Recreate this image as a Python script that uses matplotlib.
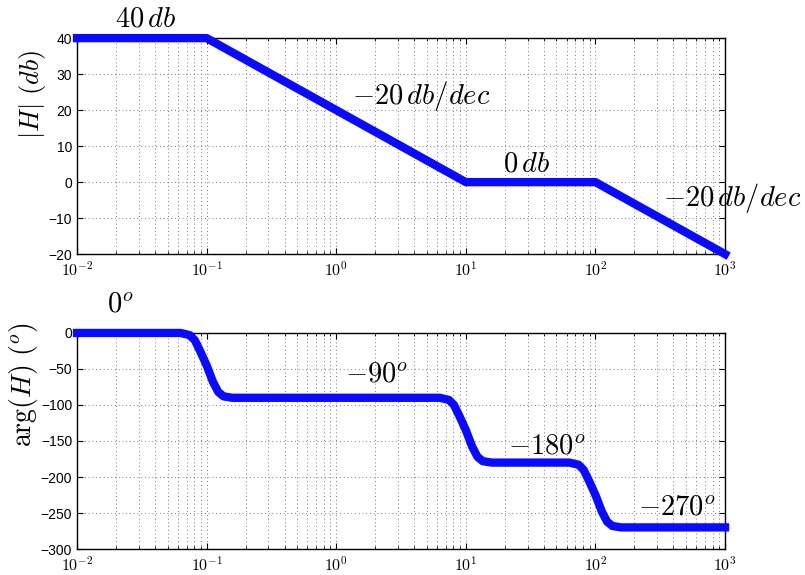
import numpy as np
import matplotlib
matplotlib.use("Agg")
import matplotlib.pyplot as plt
from matplotlib.ticker import FuncFormatter, LogLocator, MultipleLocator

plt.rcParams['mathtext.fontset'] = 'cm'
plt.rcParams['font.family'] = ['Liberation Sans', 'DejaVu Sans']

## Asymptotic magnitude (breakpoints).
mag_freq = [0.01, 0.1, 10, 100, 1000]
mag_db = [40, 40, 0, 0, -20]

## Phase curve, points.
phase_freq = [0.01, 0.063, 0.074, 0.081, 0.089, 0.1, 0.112, 0.123, 0.135, 0.158,
              6.3, 7.4, 8.1, 8.9, 10, 11.2, 12.3, 13.5, 15.8,
              63, 74, 81, 89, 100, 112, 123, 135, 158, 1000]
phase_deg = [0, 0, -3, -10, -25, -45, -68, -82, -88, -90,
             -90, -93, -100, -115, -135, -158, -172, -178, -180,
             -180, -183, -190, -205, -225, -248, -262, -268, -270, -270]

## Annotations: (text, x, y)
mag_notes = [(r'$40\,db$', 0.0196, 45.3),
             (r'$-20\,db/dec$', 1.32, 23.8),
             (r'$0\,db$', 19.4, 4.8),
             (r'$-20\,db/dec$', 333, -4.4)]
phase_notes = [(r'$0^o$', 0.017, 40),
               (r'$-90^o$', 1.17, -57),
               (r'$-180^o$', 21.2, -158),
               (r'$-270^o$', 214, -243)]


def dec_label(v, pos):
    return r'$\mathsf{10^{%d}}$' % int(round(np.log10(v)))


def style_axes(ax):
    ax.set_xscale('log')
    ax.set_xlim(1e-2, 1e3)
    ax.xaxis.set_major_locator(LogLocator(base=10, numticks=10))
    ax.xaxis.set_minor_locator(LogLocator(base=10, subs=np.arange(2, 10), numticks=10))
    ax.xaxis.set_major_formatter(FuncFormatter(dec_label))
    ax.grid(True, which='major', axis='both', color='0.3', linestyle=(0, (1, 3.5)), linewidth=0.6)
    ax.grid(True, which='minor', axis='x', color='0.3', linestyle=(0, (1, 3.5)), linewidth=0.6)
    ax.tick_params(which='both', direction='in', top=True, right=True)
    ax.tick_params(axis='y', labelsize=10)
    ax.tick_params(axis='x', labelsize=11.5, pad=4.5)
    ax.tick_params(which='major', length=4)
    ax.tick_params(which='minor', length=2)
    for s in ax.spines.values():
        s.set_linewidth(1.0)


fig = plt.figure(figsize=(8.05, 5.75), dpi=100)
ax1 = fig.add_axes([0.0957, 0.558, 0.805, 0.3757])
ax2 = fig.add_axes([0.0957, 0.0452, 0.805, 0.3757])

## Magnitude plot
ax1.plot(mag_freq, mag_db, color='#0a0aff', linewidth=6, clip_on=False,
         solid_capstyle='projecting', solid_joinstyle='round', zorder=3)
style_axes(ax1)
ax1.set_ylim(-20, 40)
ax1.yaxis.set_major_locator(MultipleLocator(10))
ax1.set_ylabel(r'$|H|\ (db)$', fontsize=19)
ax1.yaxis.set_label_coords(-0.045, 0.74)
for txt, x, y in mag_notes:
    ax1.text(x, y, txt, fontsize=20.5, ha='left', va='center', clip_on=False)

## Phase plot
ax2.plot(phase_freq, phase_deg, color='#0a0aff', linewidth=6, clip_on=False,
         solid_capstyle='projecting', solid_joinstyle='round', zorder=3)
style_axes(ax2)
ax2.set_ylim(-300, 0)
ax2.yaxis.set_major_locator(MultipleLocator(50))
ax2.set_ylabel(r'$\arg(H)\ (^o)$', fontsize=20)
ax2.yaxis.set_label_coords(-0.057, 0.76)
for txt, x, y in phase_notes:
    ax2.text(x, y, txt, fontsize=20.5, ha='left', va='center', clip_on=False)

fig.savefig('out.png', dpi=100)
